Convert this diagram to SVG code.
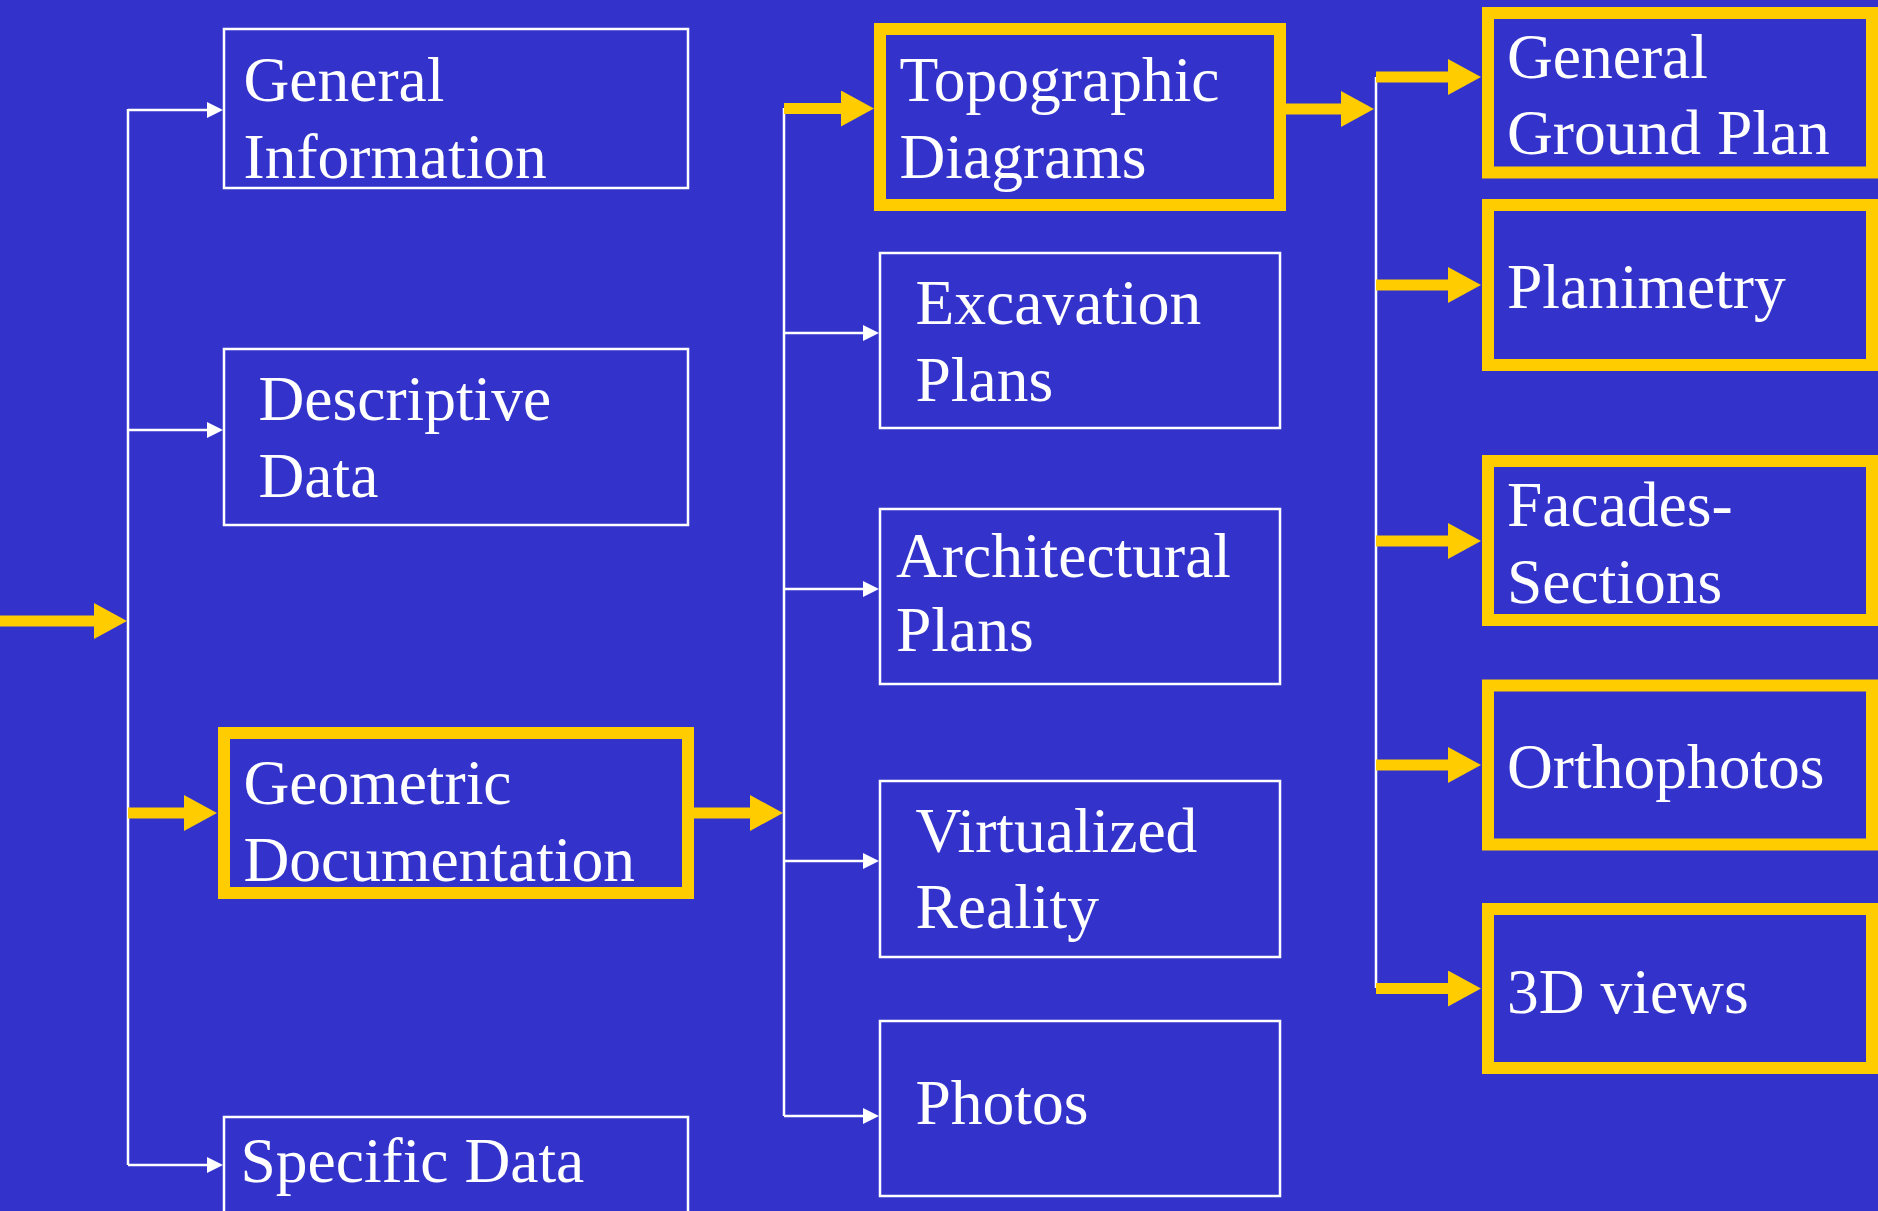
<svg xmlns="http://www.w3.org/2000/svg" width="1878" height="1211" viewBox="0 0 1878 1211">
  <style>
    .bg { fill: #3333CC; }
    .box { fill: none; stroke: #FFFFFF; stroke-width: 2.5; }
    .hbox { fill: none; stroke: #FFCC00; stroke-width: 12; }
    .lbl { font-family: "Liberation Serif", "Times New Roman", serif; font-size: 63.5px; fill: #FFFFFF; }
    .wline { fill: none; stroke: #FFFFFF; stroke-width: 2.5; }
    .yarr { fill: none; stroke: #FFCC00; stroke-width: 11; marker-end: url(#yHead); }
    .warr { fill: none; stroke: #FFFFFF; stroke-width: 2.5; marker-end: url(#wHead); }
  </style>
  <defs>
    <marker id="wHead" markerUnits="userSpaceOnUse" markerWidth="17" markerHeight="17" refX="1" refY="8" orient="auto">
      <path d="M0,0 L16,8 L0,16 z" fill="#FFFFFF"/>
    </marker>
    <marker id="yHead" markerUnits="userSpaceOnUse" markerWidth="34" markerHeight="37" refX="1" refY="18" orient="auto">
      <path d="M0,0 L33,18 L0,36 z" fill="#FFCC00"/>
    </marker>
  </defs>

  <rect class="bg" x="0" y="0" width="1878" height="1211"/>

  <!-- connectors -->
  <g id="connectors">
    <!-- trunk lines -->
    <path class="wline" d="M128,109 V1165"/>
    <path class="wline" d="M784,108 V1116"/>
    <path class="wline" d="M1376,77 V988"/>

    <!-- incoming flow -->
    <path class="yarr" d="M0,621 H95"/>

    <!-- first level branches -->
    <path class="warr" d="M128,110 H208"/>
    <path class="warr" d="M128,430 H208"/>
    <path class="yarr" d="M128,813 H185"/>
    <path class="warr" d="M128,1165 H208"/>

    <!-- geometric documentation to second level -->
    <path class="yarr" d="M693,813 H751"/>

    <!-- second level branches -->
    <path class="yarr" d="M784,108.5 H842"/>
    <path class="warr" d="M784,333 H864"/>
    <path class="warr" d="M784,589 H864"/>
    <path class="warr" d="M784,861 H864"/>
    <path class="warr" d="M784,1116 H864"/>

    <!-- topographic diagrams to third level -->
    <path class="yarr" d="M1286,109 H1342"/>

    <!-- third level branches -->
    <path class="yarr" d="M1376,77 H1449"/>
    <path class="yarr" d="M1376,285 H1449"/>
    <path class="yarr" d="M1376,541 H1449"/>
    <path class="yarr" d="M1376,765 H1449"/>
    <path class="yarr" d="M1376,988.5 H1449"/>
  </g>

  <!-- first level -->
  <g id="general-information">
    <rect class="box" x="224" y="29" width="464" height="159"/>
    <text class="lbl" x="243.5" y="101">General</text>
    <text class="lbl" x="243.5" y="177.5">Information</text>
  </g>
  <g id="descriptive-data">
    <rect class="box" x="224" y="349" width="464" height="176"/>
    <text class="lbl" x="258.5" y="419.5">Descriptive</text>
    <text class="lbl" x="258.5" y="496.5">Data</text>
  </g>
  <g id="geometric-documentation">
    <rect class="hbox" x="224" y="733" width="464" height="160"/>
    <text class="lbl" x="243.5" y="804">Geometric</text>
    <text class="lbl" x="243.5" y="881">Documentation</text>
  </g>
  <g id="specific-data">
    <rect class="box" x="224" y="1117" width="464" height="130"/>
    <text class="lbl" x="240.5" y="1181.5">Specific Data</text>
  </g>

  <!-- second level -->
  <g id="topographic-diagrams">
    <rect class="hbox" x="880" y="29" width="400" height="176"/>
    <text class="lbl" x="899.5" y="101">Topographic</text>
    <text class="lbl" x="899.5" y="177.5">Diagrams</text>
  </g>
  <g id="excavation-plans">
    <rect class="box" x="880" y="253" width="400" height="175"/>
    <text class="lbl" x="915.5" y="324">Excavation</text>
    <text class="lbl" x="915.5" y="401">Plans</text>
  </g>
  <g id="architectural-plans">
    <rect class="box" x="880" y="509" width="400" height="175"/>
    <text class="lbl" x="896" y="577">Architectural</text>
    <text class="lbl" x="896" y="651">Plans</text>
  </g>
  <g id="virtualized-reality">
    <rect class="box" x="880" y="781" width="400" height="176"/>
    <text class="lbl" x="915.5" y="852">Virtualized</text>
    <text class="lbl" x="915.5" y="928">Reality</text>
  </g>
  <g id="photos">
    <rect class="box" x="880" y="1021" width="400" height="175"/>
    <text class="lbl" x="915.5" y="1124">Photos</text>
  </g>

  <!-- third level -->
  <g id="general-ground-plan">
    <rect class="hbox" x="1488" y="13" width="384" height="159.5"/>
    <text class="lbl" x="1507" y="78">General</text>
    <text class="lbl" x="1507" y="154">Ground Plan</text>
  </g>
  <g id="planimetry">
    <rect class="hbox" x="1488" y="205" width="384" height="160"/>
    <text class="lbl" x="1507" y="308">Planimetry</text>
  </g>
  <g id="facades-sections">
    <rect class="hbox" x="1488" y="461" width="384" height="159"/>
    <text class="lbl" x="1507" y="525.5">Facades-</text>
    <text class="lbl" x="1507" y="603">Sections</text>
  </g>
  <g id="orthophotos">
    <rect class="hbox" x="1488" y="685.5" width="384" height="159"/>
    <text class="lbl" x="1507" y="788">Orthophotos</text>
  </g>
  <g id="views-3d">
    <rect class="hbox" x="1488" y="909" width="384" height="159"/>
    <text class="lbl" x="1507" y="1012.5">3D views</text>
  </g>
</svg>
